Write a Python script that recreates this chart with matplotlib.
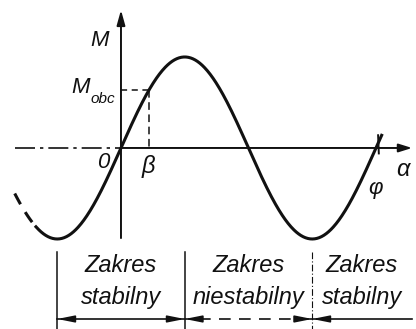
import numpy as np
import matplotlib.pyplot as plt

plt.rcParams['font.family'] = ['Liberation Sans', 'DejaVu Sans']

# Torque-angle characteristic M = Mmax * sin(alpha), angles in degrees
alpha_start = -150      # start of the curve (left end, dashed part)
alpha_dash_end = -120   # dashed part ends here
alpha_end = 368         # right end of the curve
m_max = 1.0
m_obc = 0.64            # load torque level

# Range boundaries and labels underneath
bounds = [-90, 90, 270]
range_centers = [0, 180, 340]
range_top = ['Zakres', 'Zakres', 'Zakres']
range_bottom = ['stabilny', 'niestabilny', 'stabilny']

fig = plt.figure(figsize=(4.16, 3.29), dpi=100)
ax = fig.add_axes([0, 0, 1, 1])
ax.set_xlim(-170.8, 416.5)
ax.set_ylim(-1.989, 1.626)
ax.axis('off')

ink = '#111111'

# curve
a_dash = np.linspace(alpha_start, alpha_dash_end, 40)
a_solid = np.linspace(alpha_dash_end, alpha_end, 600)
ax.plot(a_dash, m_max * np.sin(np.radians(a_dash)), color=ink, lw=2.2,
        ls=(0, (4, 3)), solid_capstyle='butt')
ax.plot(a_solid, m_max * np.sin(np.radians(a_solid)), color=ink, lw=2.2)

# axes
ax.plot([alpha_start, 0], [0, 0], color=ink, lw=1.2, ls=(0, (12, 3, 2, 3)))
ax.annotate('', xy=(411, 0), xytext=(0, 0),
            arrowprops=dict(arrowstyle='-|>,head_length=0.8,head_width=0.25',
                            color=ink, lw=1.4, shrinkA=0, shrinkB=0))
ax.annotate('', xy=(0, 1.516), xytext=(0, -0.99),
            arrowprops=dict(arrowstyle='-|>,head_length=0.9,head_width=0.25',
                            color=ink, lw=1.4, shrinkA=0, shrinkB=0))

# operating point
beta = np.degrees(np.arcsin(m_obc / m_max))
ax.plot([0, beta], [m_obc, m_obc], color=ink, lw=1.1, ls=(0, (4, 3)))
ax.plot([beta, beta], [m_obc, 0], color=ink, lw=1.1, ls=(0, (5, 3)))

# small mark at the end of the curve
ax.plot([363, 364], [0.14, -0.06], color=ink, lw=1.4)

txt = dict(color=ink, style='italic', ha='center', va='center')
ax.text(-29.6, 1.176, 'M', fontsize=16, **txt)
ax.text(-57, 0.66, 'M', fontsize=16, **txt)
ax.text(-25, 0.54, 'obc', fontsize=11, **txt)
ax.text(-25, -0.16, '0', fontsize=16, **txt)
ax.text(beta - 1, -0.2, 'β', fontsize=17, **txt)
ax.text(398, -0.24, 'α', fontsize=17, **txt)
ax.text(359, -0.44, 'φ', fontsize=16, **txt)

# ranges below the plot
y_dim = -1.879
for b, ls in zip(bounds, ['-', '-', (0, (6, 2, 1, 2))]):
    ax.plot([b, b], [-1.143, -1.989], color=ink, lw=1.1 if ls == '-' else 0.8, ls=ls)

for c, t1, t2 in zip(range_centers, range_top, range_bottom):
    ax.text(c, -1.286, t1, fontsize=17, **txt)
    ax.text(c, -1.648, t2, fontsize=17, **txt)

ax.plot([bounds[0], bounds[1] + 20], [y_dim, y_dim], color=ink, lw=1.2)
ax.plot([bounds[1] + 20, bounds[2] - 20], [y_dim, y_dim], color=ink, lw=1.2,
        ls=(0, (7, 5)))
ax.plot([bounds[2] - 20, 411], [y_dim, y_dim], color=ink, lw=1.2)

head = dict(arrowstyle='-|>,head_length=1.0,head_width=0.2', color=ink,
            lw=1.2, shrinkA=0, shrinkB=0)
for tip, tail in [(bounds[0], bounds[0] + 20), (bounds[1], bounds[1] - 20),
                  (bounds[1], bounds[1] + 20), (bounds[2], bounds[2] - 20),
                  (bounds[2], bounds[2] + 20)]:
    ax.annotate('', xy=(tip, y_dim), xytext=(tail, y_dim), arrowprops=head)

fig.savefig('out.png', dpi=100)
